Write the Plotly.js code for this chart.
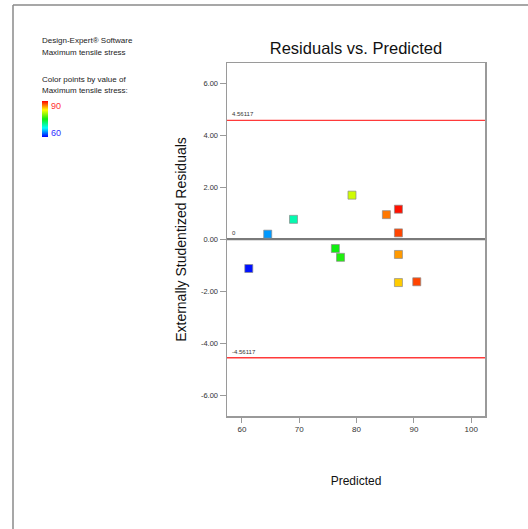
<!DOCTYPE html>
<html>
<head>
<meta charset="utf-8">
<script src="https://cdn.plot.ly/plotly-3.0.1.min.js"></script>
<style>
html,body{margin:0;padding:0;background:#fff;}
#chart{width:528px;height:529px;}
</style>
</head>
<body>
<div id="chart"></div>
<script>
// Data
const predicted = [61.2, 64.5, 69.0, 76.3, 77.2, 79.2, 85.2, 87.3, 87.3, 87.3, 87.3, 90.5];
const residuals = [-1.13, 0.19, 0.76, -0.36, -0.70, 1.69, 0.94, 1.15, 0.24, -0.59, -1.67, -1.64];
const actualStress = [60.5, 64.5, 70, 75, 75.5, 81, 86.5, 89.5, 88, 85.5, 84, 88];
const limitValues = [4.56117, 0, -4.56117];
const limitLabels = ["4.56117", "0", "-4.56117"];
const yTickVals = [-6, -4, -2, 0, 2, 4, 6];
const yTickText = ["-6.00", "-4.00", "-2.00", "0.00", "2.00", "4.00", "6.00"];
const xTickVals = [60, 70, 80, 90, 100];
const xTickText = ["60", "70", "80", "90", "100"];
const colorMin = 60, colorMax = 90;
const infoLines = ["Design-Expert® Software", "Maximum tensile stress", "", "Color points by value of", "Maximum tensile stress:"];

const FONT = "'Liberation Sans', Arial, sans-serif";

const W = 528, H = 529, ML = 227, MR = 43, MT = 63, MB = 113;
const PW = W - ML - MR, PH = H - MT - MB;
const px = p => (p - ML) / PW;          // pixel x -> paper x
const py = p => (H - MB - p) / PH;      // pixel y -> paper y

const trace = {
  type: 'scatter', mode: 'markers',
  x: predicted, y: residuals,
  marker: {
    symbol: 'square', size: 8,
    color: actualStress, cmin: colorMin, cmax: colorMax,
    colorscale: [[0,'#0000FF'],[0.25,'#00FFFF'],[0.5,'#10EE10'],[0.75,'#FFFF00'],[1,'#FF0000']],
    line: {color: 'rgba(140,140,140,0.7)', width: 1},
    showscale: true,
    colorbar: {
      x: px(42), xanchor: 'left', xref: 'paper',
      y: py(119), yanchor: 'middle', yref: 'paper',
      thickness: 6, thicknessmode: 'pixels',
      len: 36, lenmode: 'pixels',
      outlinewidth: 0, showticklabels: false, ticks: '',
      xpad: 0, ypad: 0
    }
  },
  hoverinfo: 'x+y'
};

const shapes = [];
const annotations = [];
limitValues.forEach((v, i) => {
  const isZero = v === 0;
  shapes.push({type: 'line', xref: 'paper', x0: 0, x1: 1, yref: 'y', y0: v, y1: v,
    line: {color: isZero ? '#7a7a7a' : '#FF3a3a', width: isZero ? 2.2 : 1.3}, layer: 'below'});
  annotations.push({xref: 'paper', x: 0.012, xanchor: 'left', yref: 'y', y: v, yanchor: 'bottom',
    yshift: 1, text: limitLabels[i], showarrow: false, font: {size: 6, color: '#333', family: FONT}});
});
// outer frame
shapes.push({type: 'line', xref: 'paper', yref: 'paper', x0: px(13), x1: px(560), y0: py(5), y1: py(5), line: {color: '#8a8a8a', width: 1.5}});
shapes.push({type: 'line', xref: 'paper', yref: 'paper', x0: px(13), x1: px(13), y0: py(5), y1: py(560), line: {color: '#8a8a8a', width: 1.5}});

// info text
const infoY = [40, 52, 0, 79, 91];
infoLines.forEach((t, i) => {
  if (!t) return;
  annotations.push({xref: 'paper', x: px(40), xanchor: 'left', yref: 'paper', y: py(infoY[i]), yanchor: 'middle',
    text: t, showarrow: false, font: {size: 8, color: '#222', family: FONT}});
});
annotations.push({xref: 'paper', x: px(49), xanchor: 'left', yref: 'paper', y: py(106), yanchor: 'middle',
  text: String(colorMax), showarrow: false, font: {size: 9, color: '#FF3030', family: FONT}});
annotations.push({xref: 'paper', x: px(49), xanchor: 'left', yref: 'paper', y: py(133), yanchor: 'middle',
  text: String(colorMin), showarrow: false, font: {size: 9, color: '#3030FF', family: FONT}});

const layout = {
  width: W, height: H,
  margin: {l: ML, r: MR, t: MT, b: MB, pad: 0},
  paper_bgcolor: '#fff', plot_bgcolor: '#fff',
  showlegend: false,
  font: {family: FONT, color: '#222'},
  title: {text: 'Residuals vs. Predicted', font: {size: 16.5, color: '#111', family: FONT},
    x: 0.5, xref: 'paper', xanchor: 'center', y: 1 - 48 / H, yref: 'container', yanchor: 'middle'},
  xaxis: {
    range: [57.4, 102.4], tickvals: xTickVals, ticktext: xTickText,
    showgrid: false, zeroline: false, showline: true, mirror: true, linecolor: '#9a9a9a', linewidth: 1.5,
    ticks: 'outside', ticklen: 5, tickcolor: '#9a9a9a', tickwidth: 1,
    tickfont: {size: 8, color: '#333'},
    title: {text: 'Predicted', font: {size: 12, color: '#111'}, standoff: 43},
    automargin: false
  },
  yaxis: {
    range: [-6.8, 6.77], tickvals: yTickVals, ticktext: yTickText,
    showgrid: false, zeroline: false, showline: true, mirror: true, linecolor: '#9a9a9a', linewidth: 1.5,
    ticks: 'outside', ticklen: 6, tickcolor: '#9a9a9a', tickwidth: 1,
    tickfont: {size: 7.5, color: '#333'},
    title: {text: 'Externally Studentized Residuals', font: {size: 14, color: '#111'}, standoff: 11},
    automargin: false
  },
  shapes: shapes,
  annotations: annotations
};

Plotly.newPlot('chart', [trace], layout, {displayModeBar: false, staticPlot: true});
</script>
</body>
</html>
